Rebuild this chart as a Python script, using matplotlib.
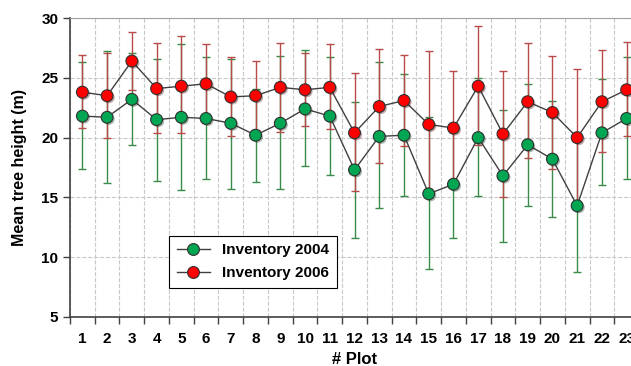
import matplotlib.pyplot as plt
import matplotlib.patheffects as pe
from matplotlib.ticker import FixedLocator, NullFormatter

plots = list(range(1, 24))

# mean height per plot
h2004 = [21.8, 21.7, 23.2, 21.5, 21.7, 21.6, 21.2, 20.2, 21.2, 22.4, 21.8, 17.3,
         20.1, 20.2, 15.3, 16.1, 20.0, 16.8, 19.4, 18.2, 14.3, 20.4, 21.6]
h2006 = [23.8, 23.5, 26.4, 24.1, 24.3, 24.5, 23.4, 23.5, 24.2, 24.0, 24.2, 20.4,
         22.6, 23.1, 21.1, 20.8, 24.3, 20.3, 23.0, 22.1, 20.0, 23.0, 24.0]

# error bar ends
hi2004 = [26.3, 27.2, 27.1, 26.6, 27.8, 26.7, 26.6, 24.1, 26.8, 27.3, 26.7, 23.0,
          26.3, 25.3, 21.7, 20.5, 25.0, 22.3, 24.5, 23.1, 19.8, 24.9, 26.7]
lo2004 = [17.4, 16.2, 19.4, 16.4, 15.6, 16.5, 15.7, 16.3, 15.7, 17.6, 16.9, 11.6,
          14.1, 15.1, 9.0, 11.6, 15.1, 11.3, 14.3, 13.4, 8.8, 16.0, 16.5]
hi2006 = [26.9, 27.1, 28.8, 27.9, 28.5, 27.8, 26.7, 26.4, 27.9, 27.1, 27.8, 25.4,
          27.4, 26.9, 27.2, 25.6, 29.3, 25.6, 27.9, 26.8, 25.7, 27.3, 28.0]
lo2006 = [20.8, 20.0, 24.0, 20.4, 20.4, 21.2, 20.1, 20.6, 20.5, 21.0, 20.7, 15.5,
          17.9, 19.3, 15.0, 16.0, 19.4, 15.0, 18.3, 17.4, 14.3, 18.8, 20.1]

plt.rcParams['font.family'] = ['Liberation Sans', 'DejaVu Sans']
plt.rcParams['font.weight'] = 'bold'

fig = plt.figure(figsize=(6.31, 3.66), dpi=100)
# the plot runs past the right edge of the picture, as in the original
ax = fig.add_axes([70 / 631, 49 / 366, 569 / 631, 299 / 366])

shadow = [pe.SimplePatchShadow(offset=(1.2, -1.2), alpha=0.35), pe.Normal()]

series = [
    (h2004, lo2004, hi2004, '#00a651', '#3a8a4a', 'Inventory 2004'),
    (h2006, lo2006, hi2006, '#ff0000', '#b84a4a', 'Inventory 2006'),
]
for vals, lo, hi, face, ecol, lab in series:
    yerr = [[v - l for v, l in zip(vals, lo)], [h - v for v, h in zip(vals, hi)]]
    ax.errorbar(plots, vals, yerr=yerr, fmt='none', ecolor=ecol, elinewidth=1.0,
                capsize=3, capthick=1.0, zorder=2)
    ax.plot(plots, vals, color='#404040', lw=1.0, zorder=3)
    ax.plot(plots, vals, ls='none', marker='o', ms=8.5, mfc=face, mec='#303030',
            mew=0.8, zorder=4, path_effects=shadow)
    # legend proxy
    ax.plot([], [], color='#404040', lw=1.0, marker='o', ms=8.5, mfc=face,
            mec='#303030', mew=0.8, label=lab)

ax.set_xlim(0.5, 23.5)
ax.set_ylim(5, 30)
ax.set_yticks([5, 10, 15, 20, 25, 30])
ax.set_xticks(plots)
ax.xaxis.set_minor_locator(FixedLocator([p + 0.5 for p in range(0, 24)]))
ax.xaxis.set_minor_formatter(NullFormatter())
ax.tick_params(axis='x', which='major', length=0, labelsize=11, pad=11)
ax.tick_params(axis='x', which='minor', length=5, width=1, color='#404040')
ax.tick_params(axis='y', length=5, width=1, color='#404040', labelsize=11)

ax.grid(True, axis='y', ls='--', color='#c8c8c8', lw=0.8)
ax.grid(True, axis='x', which='minor', ls='--', color='#c8c8c8', lw=0.8)
ax.set_axisbelow(True)

for s in ['left', 'bottom']:
    ax.spines[s].set_color('#404040')
    ax.spines[s].set_linewidth(1.2)
ax.spines['top'].set_color('#a0a0a0')
ax.spines['right'].set_visible(False)

ax.set_xlabel('# Plot', fontsize=12, fontweight='bold', labelpad=4)
ax.set_ylabel('Mean tree height (m)', fontsize=11.5, fontweight='bold', labelpad=10)

leg = ax.legend(loc='lower left', bbox_to_anchor=(99 / 569, 29 / 299), fontsize=11,
                fancybox=False, edgecolor='black', framealpha=1, borderpad=0.5,
                borderaxespad=0, handlelength=2.2, labelspacing=0.6)
leg.get_frame().set_linewidth(0.8)

fig.savefig('out.png', dpi=100)
